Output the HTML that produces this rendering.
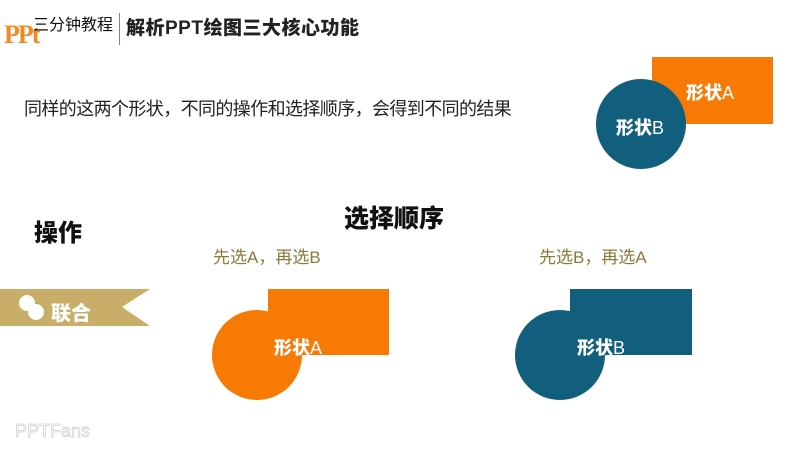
<!DOCTYPE html>
<html><head><meta charset="utf-8"><style>
body{margin:0;width:800px;height:450px;overflow:hidden;background:#fff;font-family:"Liberation Sans","Noto Sans CJK SC",sans-serif;position:relative}
.a{position:absolute;white-space:nowrap}
.b{font-weight:900}
</style></head><body>
<div class="a" style="left:4px;top:20px;font-family:'Liberation Serif',serif;font-weight:bold;font-size:26px;color:#F08A24;letter-spacing:-2px">PPt</div>
<div class="a" style="left:33px;top:11px;font-size:16px;color:#111">三分钟教程</div>
<div class="a" style="left:119px;top:13px;width:1px;height:32px;background:#a08050"></div>
<div class="a b" style="left:126px;top:13px;font-size:19px;color:#222;letter-spacing:0.5px">解析PPT绘图三大核心功能</div>
<div class="a" style="left:24px;top:95px;font-size:18px;color:#222;letter-spacing:-0.6px">同样的这两个形状，不同的操作和选择顺序，会得到不同的结果</div>
<svg class="a" style="left:0;top:0" width="800" height="450">
<rect x="652" y="57" width="121" height="67" fill="#F77A05"/>
<circle cx="641" cy="124" r="45" fill="#115F7C"/>
<rect x="268" y="289" width="121" height="66" fill="#F77A05"/>
<circle cx="257" cy="355" r="45" fill="#F77A05"/>
<rect x="570" y="289" width="122" height="66" fill="#115F7C"/>
<circle cx="560" cy="355" r="45" fill="#115F7C"/>
<polygon points="0,289 150,289 122,307 150,326 0,326" fill="#C9AE6A"/>
<circle cx="27" cy="303" r="8" fill="#fff"/><circle cx="36" cy="312" r="8" fill="#fff"/>
</svg>
<div class="a b" style="left:686px;top:79px;font-size:18px;color:#fff">形状<span style="font-weight:normal">A</span></div>
<div class="a b" style="left:616px;top:114px;font-size:18px;color:#fff">形状<span style="font-weight:normal">B</span></div>
<div class="a b" style="left:274px;top:334px;font-size:18px;color:#fff">形状<span style="font-weight:normal">A</span></div>
<div class="a b" style="left:577px;top:334px;font-size:18px;color:#fff">形状<span style="font-weight:normal">B</span></div>
<div class="a b" style="left:51px;top:297px;font-size:20px;color:#fff">联合</div>
<div class="a b" style="left:34px;top:213px;font-size:24px;color:#111">操作</div>
<div class="a b" style="left:344px;top:199px;font-size:25px;color:#111">选择顺序</div>
<div class="a" style="left:213px;top:243px;font-size:17px;color:#8A7A3C">先选A，再选B</div>
<div class="a" style="left:539px;top:243px;font-size:17px;color:#8A7A3C">先选B，再选A</div>
<div class="a" style="left:15px;top:421px;font-size:18px;color:transparent;-webkit-text-stroke:0.7px #ccc">PPTFans</div>
</body></html>
